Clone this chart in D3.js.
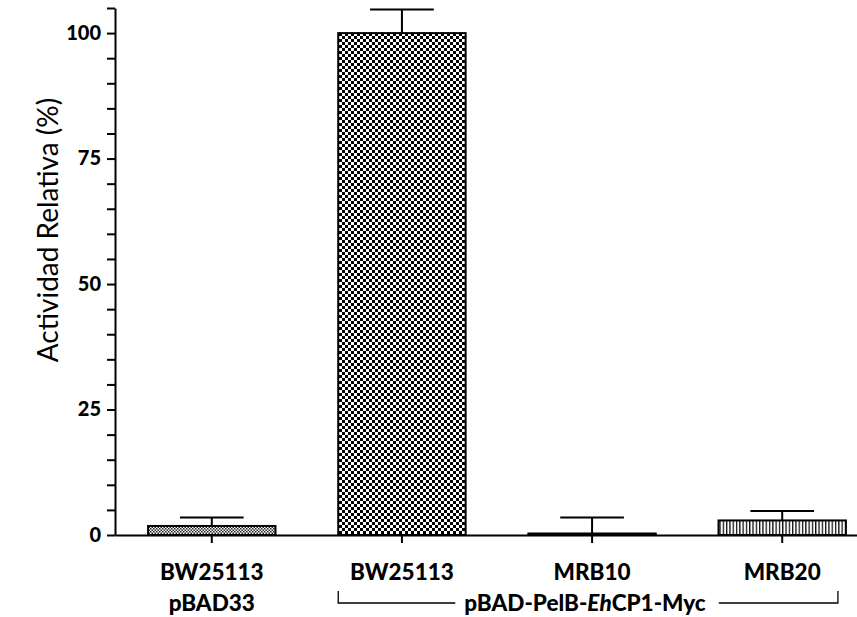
<!DOCTYPE html>
<head>
    <meta charset="utf-8">
    <title>Actividad Relativa</title>
    <style>
        body { margin: 0; background: #fff; }
        svg { display: block; font-family: Lato, "Open Sans", sans-serif; }
    </style>
</head>
<body>

<svg width="857" height="617"></svg>

<script src="https://d3js.org/d3.v7.min.js"></script>

<script>

// chart values
var strains = ['BW25113', 'BW25113', 'MRB10', 'MRB20'];
var plasmids = ['pBAD33', '', '', ''];
var activity = [1.8, 100, 0.3, 2.9];   // % relative activity
var errorUp = [1.7, 4.7, 3.2, 1.9];    // upper error bar
var fills = ['fine', 'checker', 'fine', 'stripes'];
var groupLabel = 'pBAD-PelB-EhCP1-Myc';
var yTicks = [0, 25, 50, 75, 100];

var svg = d3.select('svg');

var y = d3.scaleLinear()
    .domain([0, 105])
    .range([535, 8]);

var x = d3.scaleBand()
    .domain(d3.range(strains.length))
    .range([115, 879])
    .paddingInner(0.33)
    .paddingOuter(0.174);

// fill patterns for the bars
var defs = svg.append('defs');

var fine = defs.append('pattern')
    .attr('id', 'fine')
    .attr('patternUnits', 'userSpaceOnUse')
    .attr('width', 3).attr('height', 3);
fine.append('rect').attr('width', 3).attr('height', 3).attr('fill', '#fff');
fine.append('rect').attr('width', 1.5).attr('height', 1.5).attr('fill', '#222');
fine.append('rect').attr('x', 1.5).attr('y', 1.5).attr('width', 1.5).attr('height', 1.5).attr('fill', '#222');

var checker = defs.append('pattern')
    .attr('id', 'checker')
    .attr('patternUnits', 'userSpaceOnUse')
    .attr('width', 6).attr('height', 6);
checker.append('rect').attr('width', 6).attr('height', 6).attr('fill', '#fff');
checker.append('rect').attr('width', 3).attr('height', 3).attr('fill', '#000');
checker.append('rect').attr('x', 3).attr('y', 3).attr('width', 3).attr('height', 3).attr('fill', '#000');

var stripes = defs.append('pattern')
    .attr('id', 'stripes')
    .attr('patternUnits', 'userSpaceOnUse')
    .attr('width', 3.3).attr('height', 4);
stripes.append('rect').attr('width', 3.3).attr('height', 4).attr('fill', '#fff');
stripes.append('rect').attr('width', 1.3).attr('height', 4).attr('fill', '#111');

// bars
svg.selectAll('.bar')
    .data(activity)
    .enter().append('rect')
        .attr('class', 'bar')
        .attr('x', (d, i) => x(i))
        .attr('y', d => y(d))
        .attr('width', x.bandwidth())
        .attr('height', d => y(0) - y(d))
        .attr('fill', (d, i) => `url(#${fills[i]})`)
        .attr('stroke', '#000')
        .attr('stroke-width', 2);

// upper error bars
var err = svg.selectAll('.err')
    .data(activity)
    .enter().append('g')
        .attr('class', 'err')
        .attr('stroke', '#000')
        .attr('stroke-width', 2);

err.append('line')
    .attr('x1', (d, i) => x(i) + x.bandwidth() / 2)
    .attr('x2', (d, i) => x(i) + x.bandwidth() / 2)
    .attr('y1', d => y(d))
    .attr('y2', (d, i) => y(d + errorUp[i]));

err.append('line')
    .attr('x1', (d, i) => x(i) + x.bandwidth() / 4)
    .attr('x2', (d, i) => x(i) + x.bandwidth() * 3 / 4)
    .attr('y1', (d, i) => y(d + errorUp[i]))
    .attr('y2', (d, i) => y(d + errorUp[i]));

// y axis with minor ticks every 5
var yAxis = svg.append('g')
    .attr('transform', 'translate(115,0)')
    .call(d3.axisLeft(y)
        .tickValues(d3.range(0, 106, 5))
        .tickSize(8)
        .tickSizeOuter(0)
        .tickPadding(6)
        .tickFormat(d => yTicks.includes(d) ? d : ''));

yAxis.selectAll('line, path').attr('stroke', '#000').attr('stroke-width', 2);
yAxis.selectAll('text')
    .attr('font-family', 'Lato, sans-serif')
    .attr('font-weight', 900)
    .attr('font-size', 20)
    .attr('fill', '#000');

// x axis
var xAxis = svg.append('g')
    .attr('transform', `translate(0,${y(0)})`)
    .call(d3.axisBottom(x)
        .tickSize(8)
        .tickSizeOuter(0)
        .tickFormat(''));

xAxis.selectAll('line, path').attr('stroke', '#000').attr('stroke-width', 2);

// category labels, two lines
svg.selectAll('.strain')
    .data(strains)
    .enter().append('text')
        .attr('class', 'strain')
        .attr('x', (d, i) => x(i) + x.bandwidth() / 2)
        .attr('y', 580)
        .attr('text-anchor', 'middle')
        .attr('font-weight', 900)
        .attr('font-size', 22.5)
        .text(d => d);

svg.selectAll('.plasmid')
    .data(plasmids.filter(d => d))
    .enter().append('text')
        .attr('class', 'plasmid')
        .attr('x', x(0) + x.bandwidth() / 2)
        .attr('y', 611)
        .attr('text-anchor', 'middle')
        .attr('font-weight', 900)
        .attr('font-size', 22.5)
        .text(d => d);

// bracket for the shared construct
var bx0 = x(1), bx1 = x(3) + x.bandwidth() - 8;
var mid = 585;
var label = svg.append('text')
    .attr('x', mid)
    .attr('y', 611)
    .attr('text-anchor', 'middle')
    .attr('font-weight', 900)
    .attr('font-size', 22.5);
var parts = groupLabel.split('Eh');
label.append('tspan').text(parts[0]);
label.append('tspan').attr('font-style', 'italic').text('Eh');
label.append('tspan').text(parts[1]);

var lb = label.node().getBBox();
svg.append('path')
    .attr('d', `M${bx0},591V603H${lb.x - 9}M${lb.x + lb.width + 13},603H${bx1}V591`)
    .attr('fill', 'none')
    .attr('stroke', '#000')
    .attr('stroke-width', 1.3);

// y axis title
svg.append('text')
    .attr('transform', 'translate(58,230) rotate(-90)')
    .attr('text-anchor', 'middle')
    .attr('font-size', 28)
    .text('Actividad Relativa (%)');

</script>

</body>
